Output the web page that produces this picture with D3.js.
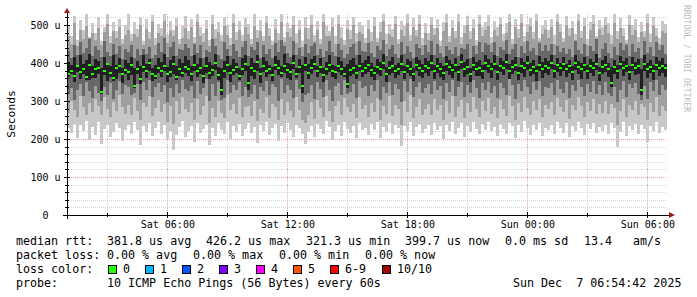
<!DOCTYPE html>
<html>
<head>
<meta charset="utf-8">
<script src="https://cdn.jsdelivr.net/npm/d3@7/dist/d3.min.js"></script>
<style>
  html, body { margin: 0; padding: 0; background: #fff; }
  svg { display: block; }
  text { font-family: "DejaVu Sans Mono", monospace; white-space: pre; }
</style>
</head>
<body>
<script>
// time range of the graph (UTC), one smoke column every 9 minutes
const startTime = Date.UTC(2025, 11, 6, 0, 59);
const endTime = Date.UTC(2025, 11, 7, 6, 59);
const stepMinutes = 9;

// median rtt per column (us)
const median = [
  372,380,366,391,377,385,362,394,371,383,388,325,379,397,374,360,386,392,370,381,
  376,395,340,384,359,389,378,401,372,365,387,380,393,371,377,398,363,385,374,390,
  383,370,396,379,388,366,392,375,381,399,369,328,378,394,373,382,390,367,384,397,
  348,388,380,402,371,393,379,385,368,396,387,374,391,382,377,400,370,389,340,395,
  373,386,398,378,390,369,384,394,380,376,392,385,371,345,382,388,375,393,379,387,
  396,381,374,390,384,401,372,388,393,379,385,398,376,391,383,370,395,387,380,392,
  386,399,378,392,384,375,397,389,381,394,376,403,385,390,372,396,383,388,379,400,
  391,384,398,377,393,386,402,380,389,395,374,392,387,399,382,390,378,396,385,393,
  388,401,379,394,386,397,383,391,376,399,389,384,395,380,392,387,398,375,390,396,
  384,348,389,380,398,386,392,377,395,388,391,330,397,385,390,379,394,387,392,386
];

// smoke: outer band (min / max ping)
const smokeLo1 = [
  228,215,240,203,236,221,247,198,232,210,244,187,226,238,205,219,242,230,196,225,
  237,212,246,224,185,233,218,241,207,229,245,214,236,199,222,172,211,231,248,204,
  220,235,192,243,216,227,238,185,230,209,241,224,213,246,201,234,219,239,208,226,
  243,217,231,190,236,222,245,210,228,239,194,233,215,242,223,206,237,229,212,188,
  218,234,205,240,226,213,247,231,197,221,238,209,244,227,215,235,202,241,224,230,
  211,239,225,246,203,232,219,243,214,236,228,181,234,222,245,208,231,240,216,227,
  236,210,242,224,233,199,238,221,246,213,229,241,206,235,218,244,227,212,239,223,
  245,220,231,207,240,226,214,243,233,202,237,219,248,228,211,236,224,242,209,230,
  225,238,213,244,230,217,241,204,235,222,246,229,210,239,226,243,215,232,220,237,
  214,242,228,178,219,245,207,233,224,240,212,238,227,191,234,221,244,216,231,225
];
const smokeHi1 = [
  498,472,525,460,512,487,531,468,505,479,520,458,494,528,470,508,483,516,462,501,
  530,476,509,490,522,458,515,481,527,466,503,492,534,474,511,486,519,463,497,524,
  485,517,469,532,496,478,513,461,526,489,507,473,521,499,465,529,482,510,475,518,
  502,464,528,487,514,471,523,493,459,516,480,533,468,506,491,525,477,512,457,520,
  491,526,475,510,463,531,498,484,518,470,527,495,461,513,488,522,479,509,500,466,
  514,481,520,467,507,535,476,503,490,524,462,511,497,530,473,518,486,527,465,504,
  479,522,492,516,458,508,529,471,513,485,532,469,500,524,483,515,461,526,495,509,
  527,468,511,494,521,476,506,532,463,517,489,528,472,503,519,481,531,466,498,514,
  488,515,473,529,502,466,524,491,510,477,535,484,519,462,507,526,470,512,496,521,
  506,474,533,483,518,493,461,527,500,515,469,508,485,530,476,520,492,465,511,503
];
// second band
const smokeLo2 = [
  268,301,276,259,314,283,262,295,271,306,287,264,310,279,258,297,273,316,285,266,
  290,263,308,275,251,296,284,312,260,281,303,270,293,246,287,240,299,267,311,278,
  271,294,249,305,262,288,313,243,282,257,300,268,254,316,276,291,265,308,259,285,
  286,260,301,247,279,268,310,255,293,284,251,306,263,298,274,258,311,277,250,242,
  264,297,252,303,281,259,314,275,246,288,299,262,308,283,270,292,256,311,279,289,
  257,295,272,309,249,287,266,313,261,290,280,238,301,270,316,255,284,305,263,278,
  291,262,306,277,289,251,299,268,312,259,283,303,255,294,271,310,280,258,300,274,
  308,267,285,256,302,279,261,314,288,250,296,270,311,282,263,299,276,305,258,290,
  280,297,262,309,284,271,303,253,290,276,311,287,259,298,273,305,266,293,268,301,
  266,293,281,236,274,305,258,289,277,300,263,292,283,249,296,270,310,261,287,275
];
const smokeHi2 = [
  470,449,506,445,488,462,497,465,478,460,492,447,481,503,452,485,466,494,450,475,
  487,458,476,468,501,448,489,462,508,447,480,471,510,452,484,470,497,449,466,493,
  463,495,452,509,471,455,490,446,502,467,482,457,498,474,448,505,460,486,458,494,
  476,450,497,466,485,458,504,472,447,489,461,507,456,481,468,499,452,487,443,491,
  462,501,459,486,449,508,472,470,496,451,503,467,447,489,463,500,456,482,476,453,
  490,458,498,455,481,510,449,477,469,502,450,488,470,506,459,496,472,503,448,480,
  460,500,473,492,445,484,505,455,491,466,508,451,478,499,462,493,447,502,470,486,
  498,452,487,470,503,459,480,509,450,496,466,505,455,482,497,463,510,458,476,490,
  467,494,449,508,481,456,499,470,492,461,510,465,497,447,486,503,466,489,474,500,
  478,451,504,463,492,471,452,501,474,488,454,482,468,506,455,497,470,449,485,479
];
// third band
const smokeLo3 = [
  318,335,302,329,344,312,351,326,308,340,322,300,336,315,347,305,330,353,319,343,
  338,317,322,345,303,350,329,356,311,336,348,324,341,298,333,310,346,320,355,331,
  326,340,307,352,318,333,357,299,344,314,349,302,309,355,321,343,330,350,312,337,
  310,319,342,305,336,327,353,316,345,338,300,358,322,341,329,308,354,332,298,315,
  320,343,306,351,332,311,356,328,301,339,348,317,354,318,325,346,309,352,335,340,
  313,341,327,355,303,336,320,350,316,345,331,297,352,323,357,310,338,349,321,334,
  344,318,353,330,339,305,348,325,356,314,337,350,311,342,322,355,333,308,347,328,
  351,321,340,309,347,333,316,357,343,304,345,326,354,336,318,349,329,352,312,338,
  334,348,315,355,331,322,350,307,341,327,356,336,313,346,324,353,319,343,317,349,
  321,314,337,298,330,352,311,344,333,348,318,302,339,305,350,326,355,316,341,329
];
const smokeHi3 = [
  431,412,448,421,455,426,440,462,418,444,433,415,458,428,419,451,424,446,410,437,
  428,447,414,436,420,438,425,443,412,422,452,430,465,417,441,455,419,437,433,450,
  440,419,451,426,447,413,435,429,462,445,421,410,456,438,418,449,431,416,442,457,
  418,441,433,455,412,448,425,437,414,452,430,460,444,427,416,458,421,439,419,450,
  426,446,453,420,438,415,431,457,429,418,449,435,413,424,443,451,422,458,432,428,
  452,427,416,444,433,461,419,436,448,425,412,455,423,445,430,414,450,439,421,447,
  430,458,421,449,427,417,446,434,425,441,418,440,436,451,413,445,424,456,429,452,
  447,428,455,419,442,433,460,424,437,451,415,444,426,457,431,439,420,453,432,448,
  432,451,420,446,429,440,425,438,417,457,435,423,449,418,444,431,462,414,436,453,
  426,414,443,421,453,434,447,418,450,429,439,412,458,427,442,419,455,433,448,424
];
// inner core band
const smokeLo4 = [
  362,371,350,376,358,370,354,355,360,361,372,318,369,352,362,352,357,375,348,372,
  356,368,334,370,345,377,360,379,352,358,374,363,380,349,362,372,355,366,362,375,
  365,352,378,362,371,348,375,357,366,381,355,316,361,377,350,368,373,354,369,380,
  330,366,358,379,347,376,362,370,352,381,368,363,373,360,355,384,361,374,322,378,
  357,370,381,364,374,350,368,377,363,358,376,369,362,334,366,372,359,378,364,371,
  377,362,355,371,366,383,351,369,375,361,368,380,358,374,365,352,378,366,360,373,
  366,379,357,373,364,356,380,368,360,376,353,385,362,371,350,378,367,365,358,382,
  373,360,382,354,376,368,384,358,370,379,355,374,363,381,365,372,352,378,361,375,
  369,383,360,376,365,380,362,374,356,381,371,359,378,357,373,366,382,352,370,377,
  362,336,370,358,383,367,376,355,380,369,372,316,378,361,374,356,381,365,375,364
];
const smokeHi4 = [
  402,394,415,389,420,398,409,425,393,411,404,387,417,400,391,422,396,413,386,407,
  399,416,388,405,392,421,397,410,387,395,414,402,424,390,408,419,393,411,400,418,
  408,391,420,397,413,389,417,403,395,423,390,386,406,419,394,410,401,388,414,422,
  392,412,399,421,387,415,404,396,390,418,409,393,424,401,397,420,388,411,395,416,
  397,410,419,393,414,388,402,422,395,391,416,405,389,398,407,413,394,420,400,409,
  418,399,390,411,403,423,389,406,415,396,401,420,392,410,404,387,417,408,398,413,
  405,421,396,412,400,391,419,408,398,414,393,424,402,411,388,417,403,409,395,422,
  410,401,420,394,414,404,423,397,407,416,390,412,403,419,399,409,393,418,402,413,
  404,420,395,413,401,417,398,409,391,422,406,400,415,396,411,403,424,389,408,418,
  400,389,407,396,419,405,412,393,416,403,410,385,421,401,408,394,417,406,413,398
];

const yTicks = [0, 100, 200, 300, 400, 500];
const lossLabels = ["0", "1", "2", "3", "4", "5", "6-9", "10/10"];
const lossColors = ["#26ff00", "#00b8ff", "#0059ff", "#7e00ff", "#ff00ff", "#ff5500", "#ff0000", "#a10000"];

const legendRtt = ["381.8 us avg", "426.2 us max", "321.3 us min", "399.7 us now", "0.0 ms sd", "13.4", "am/s"];
const legendLoss = ["0.00 % avg", "0.00 % max", "0.00 % min", "0.00 % now"];
const probeText = "10 ICMP Echo Pings (56 Bytes) every 60s";
const stampText = "Sun Dec  7 06:54:42 2025";

const width = 697, height = 297;
const plot = { left: 67, right: 667, top: 14, bottom: 215 };

const svg = d3.select("body").append("svg")
  .attr("width", width)
  .attr("height", height);

svg.append("rect").attr("width", width).attr("height", height).attr("fill", "#fff");

const x = d3.scaleUtc()
  .domain([new Date(startTime), new Date(endTime)])
  .range([plot.left, plot.right]);
const y = d3.scaleLinear()
  .domain([0, 500])
  .range([plot.bottom, 25]);

const colTime = i => new Date(startTime + i * stepMinutes * 60000);

// grid
const grid = svg.append("g").attr("shape-rendering", "crispEdges");
const minorH = d3.range(20, 540, 20).filter(v => v % 100 !== 0 && y(v) >= plot.top);
grid.selectAll(".hmin").data(minorH).enter().append("line")
  .attr("x1", plot.left).attr("x2", plot.right)
  .attr("y1", d => Math.round(y(d)) + 0.5).attr("y2", d => Math.round(y(d)) + 0.5)
  .attr("stroke", "#d6d6d6").attr("stroke-dasharray", "1,1");
const hours3 = d3.utcHour.every(3).range(new Date(startTime), new Date(endTime));
grid.selectAll(".vmin").data(hours3.filter(d => d.getUTCHours() % 6 !== 0)).enter().append("line")
  .attr("y1", plot.top).attr("y2", plot.bottom)
  .attr("x1", d => Math.round(x(d)) + 0.5).attr("x2", d => Math.round(x(d)) + 0.5)
  .attr("stroke", "#d6d6d6").attr("stroke-dasharray", "1,1");
grid.selectAll(".hmaj").data(yTicks.filter(v => v > 0)).enter().append("line")
  .attr("x1", plot.left).attr("x2", plot.right)
  .attr("y1", d => Math.round(y(d)) + 0.5).attr("y2", d => Math.round(y(d)) + 0.5)
  .attr("stroke", "#e2a4a4").attr("stroke-dasharray", "1,1");
const hours6 = hours3.filter(d => d.getUTCHours() % 6 === 0);
grid.selectAll(".vmaj").data(hours6).enter().append("line")
  .attr("y1", plot.top).attr("y2", plot.bottom)
  .attr("x1", d => Math.round(x(d)) + 0.5).attr("x2", d => Math.round(x(d)) + 0.5)
  .attr("stroke", "#e2a4a4").attr("stroke-dasharray", "1,1");

// smoke
svg.append("clipPath").attr("id", "clip").append("rect")
  .attr("x", plot.left).attr("y", plot.top)
  .attr("width", plot.right - plot.left).attr("height", plot.bottom - plot.top);
const smoke = svg.append("g").attr("clip-path", "url(#clip)").attr("shape-rendering", "crispEdges");
const layers = [
  { lo: smokeLo1, hi: smokeHi1, color: "#c8c8c8" },
  { lo: smokeLo2, hi: smokeHi2, color: "#a0a0a0" },
  { lo: smokeLo3, hi: smokeHi3, color: "#686868" },
  { lo: smokeLo4, hi: smokeHi4, color: "#202020" }
];
layers.forEach(layer => {
  smoke.append("g").selectAll("rect").data(median).enter().append("rect")
    .attr("x", (d, i) => x(colTime(i)))
    .attr("width", (d, i) => x(colTime(i + 1)) - x(colTime(i)))
    .attr("y", (d, i) => y(layer.hi[i]))
    .attr("height", (d, i) => y(layer.lo[i]) - y(layer.hi[i]))
    .attr("fill", layer.color);
});
smoke.append("g").selectAll("rect").data(median).enter().append("rect")
  .attr("x", (d, i) => x(colTime(i)))
  .attr("width", (d, i) => x(colTime(i + 1)) - x(colTime(i)))
  .attr("y", d => y(d) - 1)
  .attr("height", 2)
  .attr("fill", lossColors[0]);

// axes lines + ticks
const axes = svg.append("g").attr("shape-rendering", "crispEdges");
axes.append("line").attr("x1", 63).attr("x2", 670).attr("y1", plot.bottom + 0.5).attr("y2", plot.bottom + 0.5).attr("stroke", "#000");
axes.append("line").attr("x1", plot.left + 0.5).attr("x2", plot.left + 0.5).attr("y1", 219).attr("y2", 12).attr("stroke", "#000");
axes.selectAll(".xt").data(hours3).enter().append("line")
  .attr("x1", d => Math.round(x(d)) + 0.5).attr("x2", d => Math.round(x(d)) + 0.5)
  .attr("y1", d => d.getUTCHours() % 6 === 0 ? plot.bottom - 3 : plot.bottom - 2)
  .attr("y2", d => d.getUTCHours() % 6 === 0 ? plot.bottom + 3 : plot.bottom + 2)
  .attr("stroke", "#000");
axes.selectAll(".yt").data(d3.range(20, 540, 20).filter(v => y(v) >= plot.top)).enter().append("line")
  .attr("y1", d => Math.round(y(d)) + 0.5).attr("y2", d => Math.round(y(d)) + 0.5)
  .attr("x1", d => d % 100 === 0 ? plot.left - 3 : plot.left - 2)
  .attr("x2", d => d % 100 === 0 ? plot.left + 3 : plot.left + 2)
  .attr("stroke", "#000");
svg.append("path").attr("d", "M669,212L669,218L675,215Z").attr("fill", "#9c1c1c");
svg.append("path").attr("d", "M64,13L70,13L67,8Z").attr("fill", "#9c1c1c");

// tick labels
const xAxis = d3.axisBottom(x).tickValues(hours6).tickSize(0).tickPadding(6)
  .tickFormat(d3.utcFormat("%a %H:%M"));
svg.append("g").attr("transform", `translate(0,${plot.bottom})`).call(xAxis)
  .call(g => g.select(".domain").remove())
  .selectAll("text").attr("font-size", 10).attr("fill", "#000").attr("font-family", "DejaVu Sans Mono");
const yAxis = d3.axisLeft(y).tickValues(yTicks).tickSize(0).tickPadding(6.5)
  .tickFormat(d => d === 0 ? "0  " : d + " u");
svg.append("g").attr("transform", `translate(${plot.left},0)`).call(yAxis)
  .call(g => g.select(".domain").remove())
  .selectAll("text").attr("font-size", 10).attr("fill", "#000").attr("font-family", "DejaVu Sans Mono");

svg.append("text").attr("transform", "translate(15,114) rotate(-90)")
  .attr("text-anchor", "middle").attr("font-size", 11.3).attr("fill", "#000").text("Seconds");
svg.append("text").attr("transform", "translate(684,5) rotate(90)")
  .attr("font-size", 8.1).attr("fill", "#bdbdbd").text("RRDTOOL / TOBI OETIKER");

// legend
const lg = svg.append("g").attr("font-size", 11.66).attr("fill", "#000");
const rttX = [107, 206, 306, 405, 505, 584, 633];
lg.append("text").attr("x", 16).attr("y", 245).text("median rtt:");
lg.selectAll(".rtt").data(legendRtt).enter().append("text")
  .attr("x", (d, i) => rttX[i]).attr("y", 245).text(d => d);
const lossX = [107, 193, 279, 365];
lg.append("text").attr("x", 16).attr("y", 259).text("packet loss:");
lg.selectAll(".loss").data(legendLoss).enter().append("text")
  .attr("x", (d, i) => lossX[i]).attr("y", 259).text(d => d);
lg.append("text").attr("x", 16).attr("y", 273).text("loss color:");
const boxX = [108, 145, 182, 219, 256, 293, 330, 382];
lg.selectAll(".box").data(lossColors).enter().append("rect")
  .attr("x", (d, i) => boxX[i] + 0.5).attr("y", 265.5).attr("width", 8).attr("height", 8)
  .attr("fill", d => d).attr("stroke", "#000").attr("shape-rendering", "crispEdges");
lg.selectAll(".boxl").data(lossLabels).enter().append("text")
  .attr("x", (d, i) => boxX[i] + 15).attr("y", 273).text(d => d);
lg.append("text").attr("x", 16).attr("y", 287).text("probe:");
lg.append("text").attr("x", 107).attr("y", 287).text(probeText);
lg.append("text").attr("x", 513).attr("y", 287).text(stampText);
</script>
</body>
</html>
